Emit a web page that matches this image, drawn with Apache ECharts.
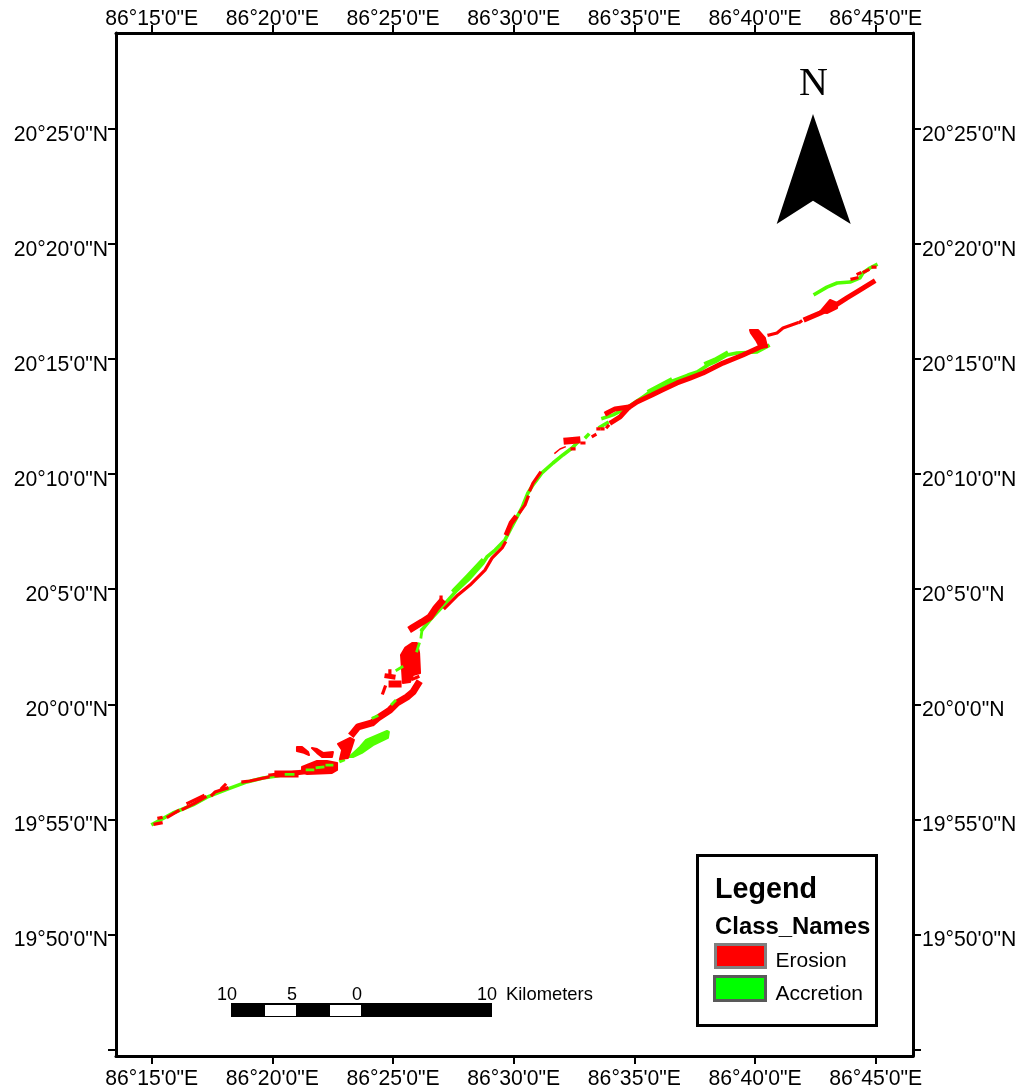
<!DOCTYPE html>
<html>
<head>
<meta charset="utf-8">
<style>html,body{margin:0;padding:0;background:#fff}#c{width:1022px;height:1090px}</style>
<script src="https://cdn.jsdelivr.net/npm/echarts@6/dist/echarts.min.js"></script>
</head>
<body>
<div id="c"></div>
<script>
// All positions: minutes east of 86 deg, minutes north of 19 deg.
const lonTicks = [15, 20, 25, 30, 35, 40, 45];
const lonLabels = ["86°15'0\"E", "86°20'0\"E", "86°25'0\"E", "86°30'0\"E", "86°35'0\"E", "86°40'0\"E", "86°45'0\"E"];
const latTicks = [45, 50, 55, 60, 65, 70, 75, 80, 85];
const latLabelTicks = [50, 55, 60, 65, 70, 75, 80, 85];
const latLabels = ["19°50'0\"N", "19°55'0\"N", "20°0'0\"N", "20°5'0\"N", "20°10'0\"N", "20°15'0\"N", "20°20'0\"N", "20°25'0\"N"];

const accretionCoast = [
  [[15.05,54.80],[15.88,55.28],[16.71,55.63],[17.29,55.97],[18.25,56.36],[18.95,56.63],[19.61,56.80],[20.19,56.89],[20.73,57.02]],
  [[26.20,63.23],[26.53,63.66],[27.03,64.23],[27.65,64.96],[28.19,65.49],[28.73,66.14],[28.89,66.40],[29.23,66.70],[29.64,67.14],[29.85,67.57],[30.14,68.14],[30.34,68.53],[30.59,69.18],[30.80,69.53],[31.17,70.05],[31.63,70.48],[32.04,70.83],[32.42,71.13],[32.66,71.39]],
  [[33.00,71.61],[33.08,71.70]],
  [[33.58,72.04],[33.87,72.22]],
  [[33.70,72.43],[34.12,72.57],[34.74,72.91],[35.36,73.35],[35.65,73.56],[35.98,73.78],[36.48,74.00],[37.22,74.30],[37.60,74.43],[38.05,74.74],[38.34,74.87],[38.84,75.17],[39.25,75.26],[40.08,75.30],[40.54,75.56]],
  [[42.49,77.82],[42.98,78.12],[43.40,78.30],[43.94,78.34],[44.35,78.52],[44.47,78.73],[44.76,78.95],[45.01,79.08]],
  [[22.84,57.54],[22.93,57.58]]
];
const accretionWide = [
  [[27.55,64.95],[28.10,65.55],[28.68,66.20]],
  [[35.65,73.60],[36.48,74.06]],
  [[38.00,74.80],[38.34,74.95],[38.80,75.22]]
];
const accretionPatches = [
  [[23.18,57.71],[23.63,58.15],[23.88,58.45],[24.75,58.84],[24.83,58.80],[24.79,58.54],[24.17,58.23],[23.71,57.89],[23.34,57.71]]
];
const accretionOver = [
  [[20.57,56.96],[20.86,56.96]],
  [[21.44,57.15],[21.68,57.15]],
  [[21.85,57.25],[22.10,57.28]],
  [[22.26,57.36],[22.47,57.36]],
  [[24.17,59.41],[24.34,59.49]],
  [[24.96,60.01],[25.08,60.14]],
  [[25.16,61.49],[25.37,61.62]],
  [[25.99,62.32],[26.08,62.62]],
  [[26.16,62.92],[26.20,63.23]]
];

const erosionThin = [
  [[15.14,54.80],[15.39,54.85]],
  [[15.30,55.06],[15.39,55.08]],
  [[15.68,55.11],[16.09,55.37]],
  [[16.30,55.45],[16.79,55.71],[17.21,55.97]],
  [[16.50,55.71],[17.13,56.02]],
  [[17.50,56.06],[17.62,56.19],[18.12,56.36]],
  [[17.91,56.36],[18.04,56.50]],
  [[18.78,56.63],[19.07,56.67],[19.82,56.84]],
  [[19.90,56.93],[20.23,56.97]],
  [[24.87,61.45],[24.87,61.32]],
  [[25.83,61.10],[26.03,61.19]],
  [[26.99,64.35],[26.99,64.66]],
  [[27.15,64.18],[27.69,64.75],[28.19,65.18],[28.81,65.83],[29.10,66.35],[29.52,66.79],[29.64,67.01]],
  [[30.26,68.35],[30.47,68.66],[30.59,69.00]],
  [[30.68,69.31],[30.80,69.61],[31.09,70.05]],
  [[32.42,71.09],[32.50,71.09]],
  [[32.83,71.35],[32.91,71.35]],
  [[33.29,71.65],[33.37,71.70]],
  [[33.49,71.96],[33.53,71.96]],
  [[33.66,71.96],[33.70,71.96]],
  [[33.87,72.04],[33.91,72.09]],
  [[40.58,76.04],[40.91,76.13],[41.16,76.34],[41.74,76.56]],
  [[41.86,76.60],[41.90,76.63]],
  [[44.02,78.47],[44.22,78.52]],
  [[44.27,78.69],[44.35,78.73]],
  [[44.52,78.78],[44.68,78.86]],
  [[44.89,78.99],[44.97,78.99]],
  [[24.67,60.75],[24.58,60.49]]
];
const erosionHair = [
  [[31.71,70.91],[31.92,71.09],[32.13,71.18]]
];
const erosionMedium = [
  [[20.94,57.02],[21.27,57.06]],
  [[24.75,61.23],[25.00,61.19]],
  [[29.72,67.44],[29.89,67.87],[30.05,68.09]],
  [[33.87,72.65],[34.20,72.83],[34.74,72.91]],
  [[34.07,72.26],[34.41,72.48],[34.74,72.87],[35.11,73.13],[35.73,73.43],[36.15,73.65],[36.77,73.96],[37.31,74.17],[37.85,74.39],[38.67,74.82],[39.50,75.17],[40.41,75.61]],
  [[42.11,76.73],[42.69,76.99],[43.23,77.26],[43.81,77.65],[44.22,77.91],[44.89,78.34]]
];
const erosionThick = [
  [[20.23,56.97],[20.94,56.97]],
  [[23.34,58.75],[23.55,59.02],[24.13,59.19],[24.38,59.41],[24.87,59.75],[25.16,60.06],[25.58,60.32],[25.83,60.54],[26.03,60.88]],
  [[24.96,60.88],[25.21,60.88]],
  [[25.79,63.31],[26.20,63.57],[26.53,63.79],[26.78,64.18],[26.99,64.44]],
  [[32.21,71.44],[32.62,71.48]]
];
const erosionPatches = [
  [[21.23,57.28],[21.85,57.54],[22.26,57.54],[22.68,57.45],[22.68,57.15],[22.47,57.02],[21.44,56.97],[21.23,57.06]],
  [[21.02,58.15],[21.23,58.15],[21.48,57.93],[21.52,57.80],[21.31,57.89],[21.02,57.97]],
  [[21.64,58.10],[21.85,58.06],[22.10,57.89],[22.51,57.93],[22.47,57.71],[22.06,57.71],[21.85,57.89]],
  [[22.72,58.28],[23.22,58.54],[23.38,58.45],[23.22,57.93],[23.13,57.67],[22.80,57.62],[22.89,58.02]],
  [[25.79,62.66],[25.99,62.66],[26.08,62.23],[26.12,61.36],[25.83,61.27],[25.70,60.97],[25.41,60.93],[25.37,61.58],[25.33,62.14],[25.50,62.45]],
  [[39.79,76.26],[40.12,76.26],[40.41,75.91],[40.50,75.52],[40.21,75.48],[40.04,75.82],[39.83,76.13]],
  [[42.69,77.04],[43.11,77.56],[43.40,77.43],[43.40,77.21],[42.98,76.99]]
];
const legendNames = ['Erosion', 'Accretion'];
const scaleLabels = ['10', '5', '0', '10'];

const RED = '#ff0000', GREEN = '#52ff00', BLACK = '#000';
const FONT = '"Liberation Sans", Arial, sans-serif';

function pathSeries(paths, name, color, width, z) {
  return paths.map(p => ({
    type: 'line', name, data: p, symbol: 'none', silent: true, z, animation: false,
    lineStyle: { color, width, cap: 'square', join: 'round' }
  }));
}
function patchSeries(patches, name, color, z) {
  return {
    type: 'custom', name, z, silent: true, animation: false,
    data: patches.map((p, i) => [p[0][0], p[0][1], i]),
    encode: { x: 0, y: 1 },
    renderItem(params, api) {
      const pts = patches[api.value(2)].map(v => api.coord(v));
      return { type: 'polygon', shape: { points: pts }, style: { fill: color, stroke: color, lineWidth: 2, lineJoin: 'round' } };
    }
  };
}
function lonAxis(position, margin) {
  return {
    type: 'value', position, min: 13.521, max: 46.546, splitLine: { show: false },
    axisLine: { show: true, onZero: false, lineStyle: { color: BLACK, width: 3 } },
    axisTick: { show: true, length: 8, customValues: lonTicks, lineStyle: { color: BLACK, width: 2 } },
    axisLabel: { show: true, customValues: lonTicks, margin, fontFamily: FONT, fontSize: 21.2, color: BLACK,
      formatter: v => lonLabels[lonTicks.indexOf(Math.round(v))] || '' }
  };
}
function latAxis(position, margin) {
  return {
    type: 'value', position, min: 44.726, max: 89.156, splitLine: { show: false },
    axisLine: { show: true, onZero: false, lineStyle: { color: BLACK, width: 3 } },
    axisTick: { show: true, length: 8, customValues: latTicks, lineStyle: { color: BLACK, width: 2 } },
    axisLabel: { show: true, customValues: latLabelTicks, margin, verticalAlign: 'top', lineHeight: 12, fontFamily: FONT, fontSize: 21.2, color: BLACK,
      formatter: v => latLabels[latLabelTicks.indexOf(Math.round(v))] || '' }
  };
}
const txt = (x, y, text, font, align) => ({
  type: 'text', x, y, silent: true, z: 100,
  style: { text, font, fill: BLACK, align: align || 'left', verticalAlign: 'middle' }
});
const box = (x, y, w, h, fill, stroke, lw) => ({
  type: 'rect', silent: true, z: 99,
  shape: { x, y, width: w, height: h },
  style: { fill, stroke: stroke || null, lineWidth: lw || 0 }
});

const sans = s => s + ' ' + FONT;
const graphics = [
  // north arrow
  { type: 'polygon', silent: true, z: 99, shape: { points: [[813,114],[850.7,224],[813,200.7],[776.7,224]] }, style: { fill: BLACK } },
  txt(813.5, 84, 'N', '40px "Liberation Serif", "Times New Roman", serif', 'center'),
  // legend
  box(697.5, 855.5, 179, 170, '#fff', BLACK, 3),
  txt(715, 890.5, 'Legend', sans('bold 28.7px')),
  txt(715, 927, 'Class_Names', sans('bold 23.9px')),
  box(715.5, 944.5, 50, 23, '#ff0000', '#808080', 3),
  box(714.5, 976.5, 51, 24, '#00ff00', '#595959', 3),
  txt(775.5, 961, legendNames[0], sans('21px')),
  txt(775.5, 994, legendNames[1], sans('21px')),
  // scale bar
  box(231, 1003, 261, 14, BLACK),
  box(265, 1005, 31, 11, '#fff'),
  box(330, 1005, 31, 11, '#fff'),
  txt(227, 995, scaleLabels[0], sans('18px'), 'center'),
  txt(292, 995, scaleLabels[1], sans('18px'), 'center'),
  txt(357, 995, scaleLabels[2], sans('18px'), 'center'),
  txt(487, 995, scaleLabels[3], sans('18px'), 'center'),
  txt(506, 995, 'Kilometers', sans('18.4px'))
];

const chart = echarts.init(document.getElementById('c'), null, { renderer: 'canvas' });
chart.setOption({
  animation: false,
  backgroundColor: '#fff',
  grid: { left: 116, top: 33, right: 109, bottom: 34, containLabel: false, outerBoundsMode: 'none', show: false },
  xAxis: [lonAxis('bottom', 13), lonAxis('top', 3)],
  yAxis: [latAxis('left', 8), latAxis('right', 9)],
  series: [
    ...pathSeries(accretionCoast, 'Accretion', GREEN, 3.6, 2),
    ...pathSeries(accretionWide, 'Accretion', GREEN, 5, 2),
    patchSeries(accretionPatches, 'Accretion', GREEN, 2),
    ...pathSeries(erosionHair, 'Erosion', RED, 1.5, 3),
    ...pathSeries(erosionThin, 'Erosion', RED, 3.2, 3),
    ...pathSeries(erosionMedium, 'Erosion', RED, 5, 3),
    ...pathSeries(erosionThick, 'Erosion', RED, 7, 3),
    patchSeries(erosionPatches, 'Erosion', RED, 3),
    ...pathSeries(accretionOver, 'Accretion', GREEN, 2.8, 4)
  ],
  graphic: graphics
});
</script>
</body>
</html>
